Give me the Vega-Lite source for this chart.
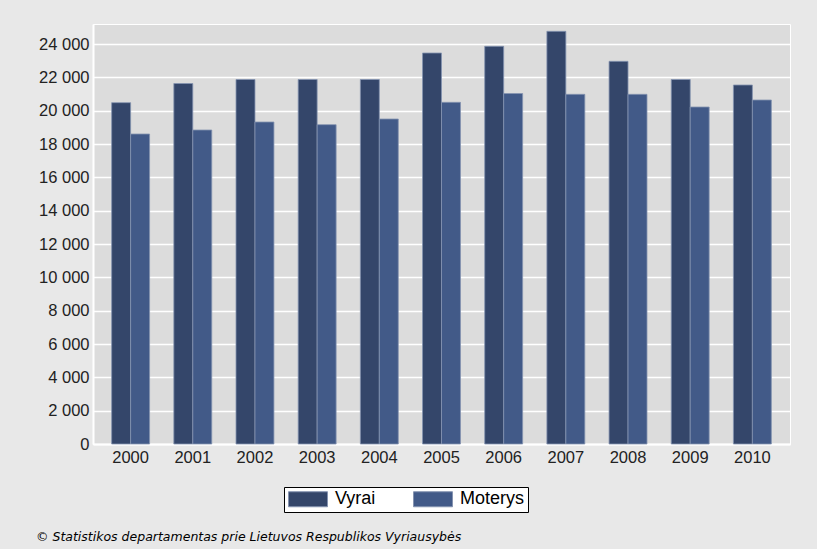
{
  "$schema": "https://vega.github.io/schema/vega-lite/v6.json",
  "width": 697,
  "height": 420,
  "autosize": {"type": "none"},
  "padding": {"left": 93, "top": 24, "right": 27, "bottom": 105},
  "background": "#e8e8e8",
  "title": {
    "text": "© Statistikos departamentas prie Lietuvos Respublikos Vyriausybės",
    "orient": "bottom",
    "anchor": "start",
    "frame": "group",
    "font": "DejaVu Sans",
    "fontSize": 12.5,
    "fontStyle": "italic",
    "fontWeight": "normal",
    "color": "#000000",
    "offset": 0,
    "dx": -57,
    "dy": 18
  },
  "data": {
    "values": [
      {"metai": "2000", "lytis": "Vyrai", "reiksme": 20480},
      {"metai": "2000", "lytis": "Moterys", "reiksme": 18600},
      {"metai": "2001", "lytis": "Vyrai", "reiksme": 21630},
      {"metai": "2001", "lytis": "Moterys", "reiksme": 18840},
      {"metai": "2002", "lytis": "Vyrai", "reiksme": 21870},
      {"metai": "2002", "lytis": "Moterys", "reiksme": 19320},
      {"metai": "2003", "lytis": "Vyrai", "reiksme": 21870},
      {"metai": "2003", "lytis": "Moterys", "reiksme": 19160},
      {"metai": "2004", "lytis": "Vyrai", "reiksme": 21870},
      {"metai": "2004", "lytis": "Moterys", "reiksme": 19500},
      {"metai": "2005", "lytis": "Vyrai", "reiksme": 23460},
      {"metai": "2005", "lytis": "Moterys", "reiksme": 20500},
      {"metai": "2006", "lytis": "Vyrai", "reiksme": 23860},
      {"metai": "2006", "lytis": "Moterys", "reiksme": 21030},
      {"metai": "2007", "lytis": "Vyrai", "reiksme": 24760},
      {"metai": "2007", "lytis": "Moterys", "reiksme": 20980},
      {"metai": "2008", "lytis": "Vyrai", "reiksme": 22960},
      {"metai": "2008", "lytis": "Moterys", "reiksme": 20980},
      {"metai": "2009", "lytis": "Vyrai", "reiksme": 21870},
      {"metai": "2009", "lytis": "Moterys", "reiksme": 20220},
      {"metai": "2010", "lytis": "Vyrai", "reiksme": 21540},
      {"metai": "2010", "lytis": "Moterys", "reiksme": 20640}
    ]
  },
  "mark": {"type": "bar", "stroke": "#8593b0", "strokeWidth": 1, "strokeOpacity": 0.8},
  "encoding": {
    "x": {
      "field": "metai",
      "type": "nominal",
      "title": null,
      "scale": {"paddingInner": 0.39, "paddingOuter": 0.3},
      "axis": {
        "labelAngle": 0,
        "ticks": false,
        "domain": true,
        "domainColor": "#ffffff",
        "domainWidth": 2,
        "labelFont": "Liberation Sans",
        "labelFontSize": 16.5,
        "labelColor": "#222222",
        "labelPadding": 5,
        "grid": false
      }
    },
    "xOffset": {
      "field": "lytis",
      "type": "nominal",
      "sort": ["Vyrai", "Moterys"],
      "scale": {"paddingInner": 0, "paddingOuter": 0}
    },
    "y": {
      "field": "reiksme",
      "type": "quantitative",
      "title": null,
      "scale": {"domain": [0, 25200], "nice": false, "zero": true},
      "axis": {
        "values": [0, 2000, 4000, 6000, 8000, 10000, 12000, 14000, 16000, 18000, 20000, 22000, 24000],
        "labelExpr": "replace(format(datum.value, ','), ',', ' ')",
        "ticks": false,
        "domain": true,
        "domainColor": "#ffffff",
        "domainWidth": 2,
        "grid": true,
        "gridColor": "#ffffff",
        "gridWidth": 1.5,
        "gridOpacity": 1,
        "labelFont": "Liberation Sans",
        "labelFontSize": 16.5,
        "labelColor": "#222222",
        "labelPadding": 4
      }
    },
    "color": {
      "field": "lytis",
      "type": "nominal",
      "sort": ["Vyrai", "Moterys"],
      "scale": {"domain": ["Vyrai", "Moterys"], "range": ["#34466a", "#425a88"]},
      "legend": {
        "title": null,
        "orient": "none",
        "legendX": 191,
        "legendY": 463,
        "direction": "horizontal",
        "columns": 2,
        "columnPadding": 35,
        "fillColor": "#ffffff",
        "strokeColor": "#000000",
        "padding": 3,
        "symbolType": "M-1,-1H4.2V1H-1Z",
        "symbolSize": 225,
        "symbolStrokeColor": "#8593b0",
        "symbolStrokeWidth": 1,
        "symbolOpacity": 1,
        "labelFont": "Liberation Sans",
        "labelFontSize": 18,
        "labelColor": "#000000",
        "labelOffset": 30
      }
    }
  },
  "config": {
    "view": {"fill": "#dcdcdc", "stroke": "#ffffff", "strokeWidth": 1}
  }
}
